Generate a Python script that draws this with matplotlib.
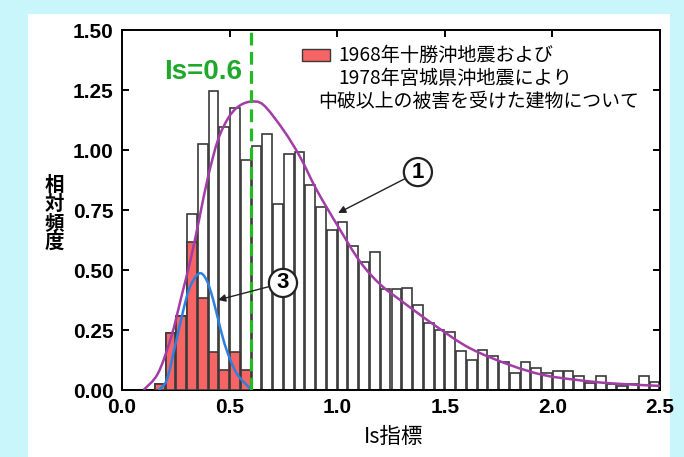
import numpy as np
import matplotlib
matplotlib.use("Agg")
import matplotlib.pyplot as plt
from matplotlib.patches import Rectangle, PathPatch
from matplotlib.path import Path

plt.rcParams['font.family'] = ['Noto Sans CJK JP', 'DejaVu Sans']

# ---- data ----
bin_start = 0.15
bin_width = 0.05
all_buildings = [0.025, 0.236, 0.308, 0.733, 1.025, 1.246, 1.094, 1.176, 0.958,
                 1.017, 1.067, 0.775, 0.983, 0.993, 0.853, 0.764, 0.667, 0.699, 0.601, 0.535, 0.576,
                 0.419, 0.419, 0.426, 0.356, 0.278, 0.250, 0.242, 0.163, 0.124, 0.168, 0.143, 0.115,
                 0.072, 0.117, 0.090, 0.069, 0.080, 0.080, 0.058, 0.028, 0.058, 0.024, 0.015, 0.025,
                 0.058, 0.033]
damaged = [0.025, 0.236, 0.308, 0.615, 0.382, 0.157, 0.083, 0.157, 0.083]

curve1_x = [0.10, 0.167, 0.229, 0.276, 0.322, 0.361, 0.40, 0.446, 0.493, 0.539, 0.595,
            0.657, 0.75, 0.827, 0.905, 1.005, 1.106, 1.20, 1.30, 1.462, 1.617, 1.803,
            1.958, 2.113, 2.268, 2.50]
curve1_y = [0.0, 0.069, 0.222, 0.389, 0.556, 0.722, 0.889, 1.042, 1.132, 1.180, 1.201,
            1.188, 1.083, 0.972, 0.833, 0.680, 0.535, 0.440, 0.370, 0.264, 0.174, 0.104,
            0.0625, 0.042, 0.028, 0.017]
curve3_x = [0.17, 0.208, 0.246, 0.285, 0.316, 0.359, 0.393, 0.424, 0.455, 0.486, 0.533, 0.595]
curve3_y = [0.0, 0.042, 0.181, 0.333, 0.430, 0.486, 0.458, 0.375, 0.264, 0.167, 0.069, 0.007]

is_line = 0.6
xticks = [0.0, 0.5, 1.0, 1.5, 2.0, 2.5]
xtick_labels = ["0.0", "0.5", "1.0", "1.5", "2.0", "2.5"]
yticks = [0.0, 0.25, 0.5, 0.75, 1.0, 1.25, 1.5]
ytick_labels = ["0.00", "0.25", "0.50", "0.75", "1.00", "1.25", "1.50"]
legend_lines = ["1968年十勝沖地震および", "1978年宮城県沖地震により", "中破以上の被害を受けた建物について"]
ylabel = "相対頻度"
xlabel = "Is指標"


def smooth_path(xs, ys):
    """Bezier path (Catmull-Rom style) through the read points."""
    p = np.column_stack([xs, ys]).astype(float)
    ext = np.vstack([p[0], p, p[-1]])
    verts = [tuple(p[0])]
    codes = [Path.MOVETO]
    for i in range(1, len(ext) - 2):
        p0, p1, p2, p3 = ext[i - 1], ext[i], ext[i + 1], ext[i + 2]
        c1 = p1 + (p2 - p0) / 6.0
        c2 = p2 - (p3 - p1) / 6.0
        verts += [tuple(c1), tuple(c2), tuple(p2)]
        codes += [Path.CURVE4] * 3
    return Path(verts, codes)


# ---- figure ----
W, H = 684, 457
fig = plt.figure(figsize=(W / 100, H / 100), dpi=100, facecolor="#c9f6fb")
bg = fig.add_axes([28 / W, 0, (670 - 28) / W, (H - 14) / H], zorder=-10)
bg.set_axis_off()
bg.add_patch(Rectangle((0, 0), 1, 1, transform=bg.transAxes, facecolor="white", edgecolor="none"))

ax = fig.add_axes([122 / W, 1 - 390 / H, (660 - 122) / W, (390 - 30) / H], zorder=1)
ax.set_facecolor("white")

centers = bin_start + bin_width * (np.arange(len(all_buildings)) + 0.5)
ax.bar(centers, all_buildings, width=bin_width * 0.9, color="white", edgecolor="#3a3a3a",
       linewidth=1.2, zorder=2)
ax.bar(centers[:len(damaged)], damaged, width=bin_width * 0.9, color="#f76464",
       edgecolor="#3a3a3a", linewidth=1.2, zorder=3)

ax.add_patch(PathPatch(smooth_path(curve1_x, curve1_y), fill=False, edgecolor="#a23ca6",
                       lw=1.8, zorder=4))
ax.add_patch(PathPatch(smooth_path(curve3_x, curve3_y), fill=False, edgecolor="#2f7fe0",
                       lw=1.8, zorder=4))
ax.axvline(is_line, color="#22bb22", lw=2.3, ls=(0, (4, 2)), zorder=5)

ax.set_xlim(0, 2.5)
ax.set_ylim(0, 1.5)
ax.set_xticks(xticks)
ax.set_xticklabels(xtick_labels)
ax.set_yticks(yticks)
ax.set_yticklabels(ytick_labels)
for lab in ax.get_xticklabels() + ax.get_yticklabels():
    lab.set_fontfamily("Liberation Sans")
    lab.set_fontweight("bold")
    lab.set_fontsize(15)
ax.tick_params(direction="in", length=5, width=1.4, top=True, right=True, pad=6, colors="black")
for s in ax.spines.values():
    s.set_linewidth(1.4)

# y label stacked vertically
fig.text(54 / W, 1 - 214 / H, "\n".join(ylabel), ha="center", va="center",
         fontsize=14, linespacing=1.0, fontweight="bold")
fig.text(394 / W, 1 - 437 / H, xlabel, ha="center", va="center", fontsize=15.5)

# Is=0.6 label
ax.text(0.376, 1.325, "Is=0.6", color="#1fa82a", fontsize=20, fontweight="bold",
        family="Liberation Sans", ha="center", va="center", zorder=6)

# legend
ax.add_patch(Rectangle((0.836, 1.371), 0.13, 0.05, facecolor="#f76464", edgecolor="#3a3a3a",
                       lw=1.0, zorder=6))
ax.text(1.004, 1.396, legend_lines[0], fontsize=13.8, va="center", ha="left", zorder=6)
ax.text(1.004, 1.300, legend_lines[1], fontsize=13.8, va="center", ha="left", zorder=6)
ax.text(0.910, 1.204, legend_lines[2], fontsize=13.6, va="center", ha="left", zorder=6)

# circled annotations
circ = dict(boxstyle="circle,pad=0.16", fc="white", ec="#222222", lw=1.6)
arr = dict(arrowstyle="-|>", color="#222222", lw=1.0, mutation_scale=11, shrinkA=0, shrinkB=0)
ax.annotate("1", xy=(1.004, 0.7375), xytext=(1.375, 0.908), fontsize=16, fontweight="bold",
            family="Liberation Sans", ha="center", va="center", bbox=circ, arrowprops=arr, zorder=7)
ax.annotate("3", xy=(0.446, 0.375), xytext=(0.748, 0.446), fontsize=16, fontweight="bold",
            family="Liberation Sans", ha="center", va="center", bbox=circ, arrowprops=arr, zorder=7)

fig.savefig("out.png", dpi=100, facecolor=fig.get_facecolor())
